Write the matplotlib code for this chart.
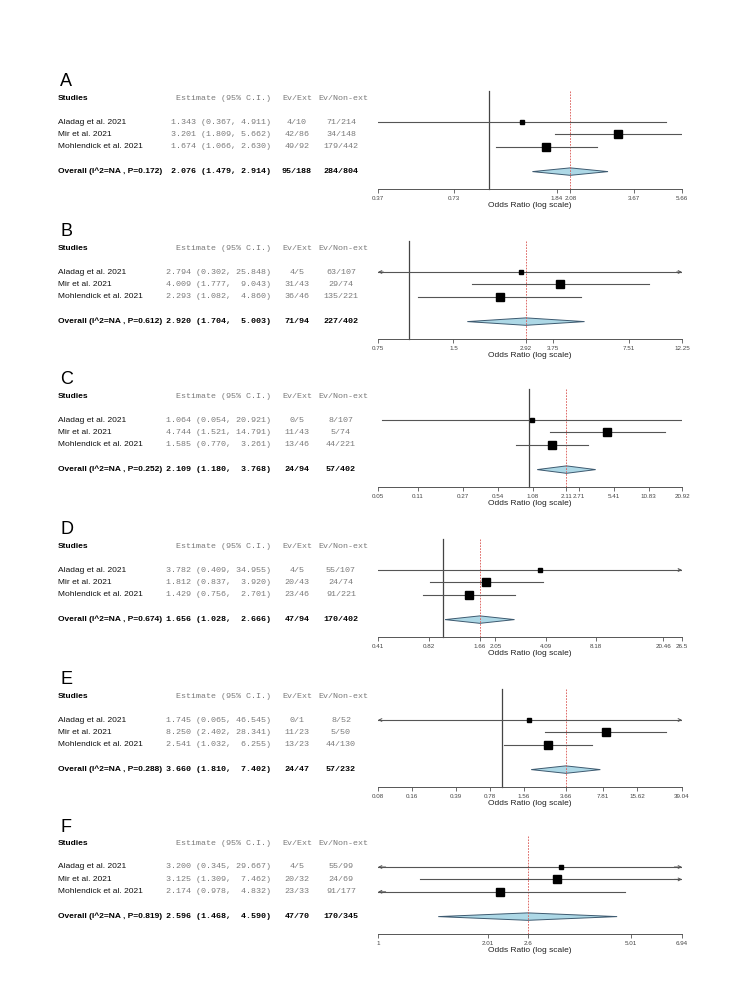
import matplotlib
matplotlib.use('Agg')
import matplotlib.pyplot as plt
import matplotlib.transforms as mtransforms
from matplotlib.ticker import NullLocator

W, H = 756, 981

studies = ['Aladag et al. 2021', 'Mir et al. 2021', 'Mohlendick et al. 2021']
panel_labels = ['A', 'B', 'C', 'D', 'E', 'F']

# per-panel data: estimate, lower, upper, events
est_A = [1.343, 3.201, 1.674]
lo_A = [0.367, 1.809, 1.066]
hi_A = [4.911, 5.662, 2.630]
ext_A = ['4/10', '42/86', '49/92']
non_A = ['71/214', '34/148', '179/442']
overall_A = [2.076, 1.479, 2.914]
overall_ev_A = ['95/188', '284/804']
p_A = '0.172'
ticks_A = [0.37, 0.73, 1.84, 2.08, 3.67, 5.66]

est_B = [2.794, 4.009, 2.293]
lo_B = [0.302, 1.777, 1.082]
hi_B = [25.848, 9.043, 4.860]
ext_B = ['4/5', '31/43', '36/46']
non_B = ['63/107', '29/74', '135/221']
overall_B = [2.920, 1.704, 5.003]
overall_ev_B = ['71/94', '227/402']
p_B = '0.612'
ticks_B = [0.75, 1.5, 2.92, 3.75, 7.51, 12.25]

est_C = [1.064, 4.744, 1.585]
lo_C = [0.054, 1.521, 0.770]
hi_C = [20.921, 14.791, 3.261]
ext_C = ['0/5', '11/43', '13/46']
non_C = ['8/107', '5/74', '44/221']
overall_C = [2.109, 1.180, 3.768]
overall_ev_C = ['24/94', '57/402']
p_C = '0.252'
ticks_C = [0.05, 0.11, 0.27, 0.54, 1.08, 2.11, 2.71, 5.41, 10.83, 20.92]

est_D = [3.782, 1.812, 1.429]
lo_D = [0.409, 0.837, 0.756]
hi_D = [34.955, 3.920, 2.701]
ext_D = ['4/5', '20/43', '23/46']
non_D = ['55/107', '24/74', '91/221']
overall_D = [1.656, 1.028, 2.666]
overall_ev_D = ['47/94', '170/402']
p_D = '0.674'
ticks_D = [0.41, 0.82, 1.66, 2.05, 4.09, 8.18, 20.46, 26.5]

est_E = [1.745, 8.250, 2.541]
lo_E = [0.065, 2.402, 1.032]
hi_E = [46.545, 28.341, 6.255]
ext_E = ['0/1', '11/23', '13/23']
non_E = ['8/52', '5/50', '44/130']
overall_E = [3.660, 1.810, 7.402]
overall_ev_E = ['24/47', '57/232']
p_E = '0.288'
ticks_E = [0.08, 0.16, 0.39, 0.78, 1.56, 3.66, 7.81, 15.62, 39.04]

est_F = [3.200, 3.125, 2.174]
lo_F = [0.345, 1.309, 0.978]
hi_F = [29.667, 7.462, 4.832]
ext_F = ['4/5', '20/32', '23/33']
non_F = ['55/99', '24/69', '91/177']
overall_F = [2.596, 1.468, 4.590]
overall_ev_F = ['47/70', '170/345']
p_F = '0.819'
ticks_F = [1, 2.01, 2.6, 5.01, 6.94]

panels = [
    (est_A, lo_A, hi_A, ext_A, non_A, overall_A, overall_ev_A, p_A, ticks_A),
    (est_B, lo_B, hi_B, ext_B, non_B, overall_B, overall_ev_B, p_B, ticks_B),
    (est_C, lo_C, hi_C, ext_C, non_C, overall_C, overall_ev_C, p_C, ticks_C),
    (est_D, lo_D, hi_D, ext_D, non_D, overall_D, overall_ev_D, p_D, ticks_D),
    (est_E, lo_E, hi_E, ext_E, non_E, overall_E, overall_ev_E, p_E, ticks_E),
    (est_F, lo_F, hi_F, ext_F, non_F, overall_F, overall_ev_F, p_F, ticks_F),
]

# layout (pixels)
label_top = [82, 232, 380, 530, 680, 827]
X0, X1 = 378, 682
SP = 12.4
sq_px = [5, 7.3, 8.5]
SANS = 'Liberation Sans'
MONO = 'Liberation Mono'
GRAY = '#7a7a7a'
LINE = '#555555'

fig = plt.figure(figsize=(W / 100, H / 100), dpi=100)
fig.patch.set_facecolor('white')

for i, (est, lo, hi, ext, non, ov, ov_ev, pval, ticks) in enumerate(panels):
    top = label_top[i]
    row1 = top + 40
    axis_px = top + 107
    y_bot = 1 + (axis_px - row1) / SP
    y_top = -1.6
    ax_top_px = row1 - (1 - y_top) * SP
    ax = fig.add_axes([X0 / W, 1 - axis_px / H, (X1 - X0) / W, (axis_px - ax_top_px) / H])
    ax.set_xscale('log')
    xmin, xmax = ticks[0], ticks[-1]
    ax.set_xlim(xmin, xmax)
    ax.set_ylim(y_bot, y_top)
    ax.patch.set_alpha(0)
    for s in ['top', 'right', 'left']:
        ax.spines[s].set_visible(False)
    ax.spines['bottom'].set_color(LINE)
    ax.spines['bottom'].set_linewidth(0.7)
    ax.set_yticks([])
    ax.set_xticks(ticks)
    ax.set_xticklabels([f'{t:g}' for t in ticks])
    ax.xaxis.set_minor_locator(NullLocator())
    ax.tick_params(axis='x', labelsize=4.5, length=3, width=0.6, color=LINE,
                   labelcolor='#444444', pad=2)
    for lab in ax.get_xticklabels():
        lab.set_family(SANS)
    ax.set_xlabel('Odds Ratio (log scale)', fontsize=6, family=SANS, labelpad=1, color='#222222')

    # reference lines
    if xmin < 1:
        ax.plot([1, 1], [-1.5, y_bot], color='#444444', lw=0.9, clip_on=False)
    ax.plot([ov[0], ov[0]], [-1.5, y_bot], color='#d9534f', lw=0.6, ls=(0, (2, 1.5)))

    # study rows
    for k in range(3):
        y = k + 1
        a = max(lo[k], xmin)
        b = min(hi[k], xmax)
        ax.plot([a, b], [y, y], color=LINE, lw=0.8)
        arrow = dict(arrowstyle='->', lw=0.7, color=LINE, mutation_scale=5,
                     shrinkA=0, shrinkB=0)
        if lo[k] < xmin * 0.99:
            ax.annotate('', xy=(xmin, y), xytext=(xmin * 1.05, y), arrowprops=arrow)
        if hi[k] > xmax * 1.01:
            ax.annotate('', xy=(xmax, y), xytext=(xmax / 1.05, y), arrowprops=arrow)
        ax.plot(est[k], y, marker='s', ms=sq_px[k] * 0.72, color='black', ls='none')

    # summary diamond
    yd = 5
    ax.fill([ov[1], ov[0], ov[2], ov[0]], [yd, yd - 0.3, yd, yd + 0.3],
            facecolor='#add8e6', edgecolor='#3d5a70', lw=0.7)

    # text table
    tr = mtransforms.blended_transform_factory(fig.transFigure, ax.transData)
    fig.text(60 / W, 1 - top / H, panel_labels[i], fontsize=13, family=SANS, va='center')
    yh = -0.9
    ax.text(58 / W, yh, 'Studies', transform=tr, fontsize=6, family=SANS, weight='bold', va='center')
    ax.text(271 / W, yh, 'Estimate (95% C.I.)', transform=tr, fontsize=6, family=MONO,
            color=GRAY, ha='right', va='center')
    ax.text(297 / W, yh, 'Ev/Ext', transform=tr, fontsize=6, family=MONO, color=GRAY,
            ha='center', va='center')
    ax.text(343 / W, yh, 'Ev/Non-ext', transform=tr, fontsize=6, family=MONO, color=GRAY,
            ha='center', va='center')

    wide = max(hi + [ov[2]]) >= 10
    hfmt = '{:6.3f}' if wide else '{:.3f}'
    for k in range(3):
        y = k + 1
        s = f'{est[k]:.3f} ({lo[k]:.3f}, ' + hfmt.format(hi[k]) + ')'
        ax.text(58 / W, y, studies[k], transform=tr, fontsize=6, family=SANS, va='center', color='#111111')
        ax.text(271 / W, y, s, transform=tr, fontsize=6, family=MONO, color=GRAY, ha='right', va='center')
        ax.text(297 / W, y, ext[k], transform=tr, fontsize=6, family=MONO, color=GRAY, ha='center', va='center')
        ax.text(341 / W, y, non[k], transform=tr, fontsize=6, family=MONO, color=GRAY, ha='center', va='center')

    s = f'{ov[0]:.3f} ({ov[1]:.3f}, ' + hfmt.format(ov[2]) + ')'
    ax.text(58 / W, yd, f'Overall (I^2=NA , P={pval})', transform=tr, fontsize=6, family=SANS,
            weight='bold', va='center')
    ax.text(271 / W, yd, s, transform=tr, fontsize=6, family=MONO, weight='bold', ha='right', va='center')
    ax.text(297 / W, yd, ov_ev[0], transform=tr, fontsize=6, family=MONO, weight='bold', ha='center', va='center')
    ax.text(341 / W, yd, ov_ev[1], transform=tr, fontsize=6, family=MONO, weight='bold', ha='center', va='center')

fig.savefig('out.png', dpi=100, facecolor='white')
